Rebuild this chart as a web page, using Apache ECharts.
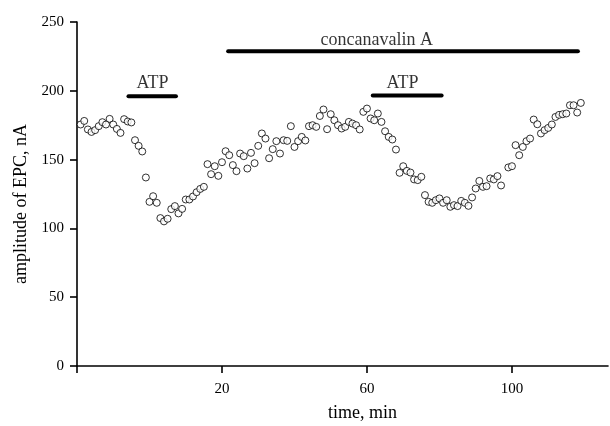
<!DOCTYPE html>
<html>
<head>
<meta charset="utf-8">
<script src="https://cdn.jsdelivr.net/npm/echarts@6/dist/echarts.min.js"></script>
<style>
html,body{margin:0;padding:0;background:#fff;}
#chart{width:610px;height:426px;}
</style>
</head>
<body>
<div id="chart"></div>
<script>
// time, min (on the figure's labelled scale)
var timeMin = [
 -19,-18,-17,-16,-15,-14,-13,-12,-11,-10,-9,-8,-7,-6,-5,-4,-3,-2,-1,0,
 1,2,3,4,5,6,7,8,9,10,11,12,13,14,15,16,17,18,19,20,
 21,22,23,24,25,26,27,28,29,30,31,32,33,34,35,36,37,38,39,40,
 41,42,43,44,45,46,47,48,49,50,51,52,53,54,55,56,57,58,59,60,
 61,62,63,64,65,66,67,68,69,70,71,72,73,74,75,76,77,78,79,80,
 81,82,83,84,85,86,87,88,89,90,91,92,93,94,95,96,97,99,100,
 101,102,103,104,105,106,107,108,109,110,111,112,113,114,115,116,117,118,119
];
// amplitude of EPC, nA
var amplitude = [
 175.5,178.1,171.9,170.1,171.4,174.3,177.2,175.5,179.6,175.5,172.3,169.4,179.4,177.7,177.0,164.1,160.0,155.9,137.0,119.3,
 123.4,118.6,107.5,105.1,107.0,114.0,116.2,110.9,114.2,121.0,121.0,123.2,126.3,128.7,130.2,146.7,139.4,145.2,138.2,148.1,
 156.1,153.2,146.0,141.6,154.4,152.5,143.5,154.9,147.4,160.0,169.0,165.3,151.0,157.6,163.4,154.4,164.1,163.6,174.3,159.2,
 163.4,166.5,163.9,174.3,175.0,173.8,181.7,186.4,172.1,183.0,178.6,175.0,172.6,173.8,177.4,176.2,175.0,171.9,184.7,187.1,
 179.9,178.6,183.5,177.4,170.6,166.5,164.6,157.3,140.4,145.2,141.8,140.6,135.6,135.1,137.5,124.2,119.3,118.6,120.5,121.8,
 118.6,120.5,115.7,116.9,116.2,120.0,118.6,116.4,122.5,129.0,134.5,130.2,130.7,136.3,135.6,138.0,131.2,144.3,145.2,
 160.5,153.2,159.2,163.4,165.3,179.1,175.7,169.0,171.4,173.0,175.5,181.0,182.5,183.0,183.5,189.5,189.5,184.2,191.2
];
// treatment bars: [start, end, level]
var barNames = ['ATP', 'concanavalin A', 'ATP'];
var barStart = [-5.8, 21.7, 61.6];
var barEnd = [7.3, 118.2, 80.6];
var barLevel = [196, 228.7, 196.5];
// label anchor for each bar
var labelX = [0.8, 62.7, 69.8];
var labelY = [205.5, 237, 205.5];

var xTickValues = [-20, 20, 60, 100];
var xTickLabels = [20, 60, 100];

var FONT = '"Liberation Serif", "Times New Roman", serif';

var points = timeMin.map(function (t, i) { return [t, amplitude[i]]; });

var series = [];
for (var i = 0; i < barNames.length; i++) {
  series.push({
    type: 'line',
    silent: true,
    symbol: 'none',
    data: [[barStart[i], barLevel[i]], [barEnd[i], barLevel[i]]],
    lineStyle: { color: '#000', width: 4, cap: 'round' },
    z: 3
  });
}
series.push({
  type: 'scatter',
  silent: true,
  symbolSize: 1,
  itemStyle: { color: 'rgba(0,0,0,0)' },
  data: barNames.map(function (n, i) { return { name: n, value: [labelX[i], labelY[i]] }; }),
  label: {
    show: true, position: 'inside', formatter: '{b}',
    color: '#000', fontFamily: FONT, fontSize: 18
  },
  z: 4
});
series.push({
  type: 'scatter',
  symbol: 'circle',
  symbolSize: 7,
  itemStyle: { color: '#fff', borderColor: '#000', borderWidth: 1 },
  data: points,
  z: 5
});

var chart = echarts.init(document.getElementById('chart'), null, { renderer: 'canvas' });
chart.setOption({
  animation: false,
  backgroundColor: '#fff',
  grid: { left: 77, right: 2, top: 22, bottom: 60, containLabel: false, outerBoundsMode: 'none' },
  xAxis: {
    type: 'value',
    min: -20, max: 126.5,
    name: 'time, min',
    nameLocation: 'middle',
    nameGap: 38,
    nameTextStyle: { color: '#000', fontFamily: FONT, fontSize: 18, padding: [0, 0, 0, 40] },
    axisLine: { show: true, onZero: false, lineStyle: { color: '#000', width: 1.6 } },
    axisTick: { show: true, inside: false, length: 7, customValues: xTickValues, lineStyle: { color: '#000', width: 1.6 } },
    axisLabel: { show: true, customValues: xTickLabels, margin: 16, color: '#000', fontFamily: FONT, fontSize: 15 },
    splitLine: { show: false }
  },
  yAxis: {
    type: 'value',
    min: 0, max: 250, interval: 50,
    name: 'amplitude of EPC, nA',
    nameLocation: 'middle',
    nameGap: 45,
    nameTextStyle: { color: '#000', fontFamily: FONT, fontSize: 18, padding: [0, 20, 0, 0] },
    axisLine: { show: true, onZero: false, lineStyle: { color: '#000', width: 1.6 } },
    axisTick: { show: true, inside: false, length: 7, lineStyle: { color: '#000', width: 1.6 } },
    axisLabel: { show: true, margin: 13, color: '#000', fontFamily: FONT, fontSize: 15 },
    splitLine: { show: false }
  },
  series: series
});
</script>
</body>
</html>
